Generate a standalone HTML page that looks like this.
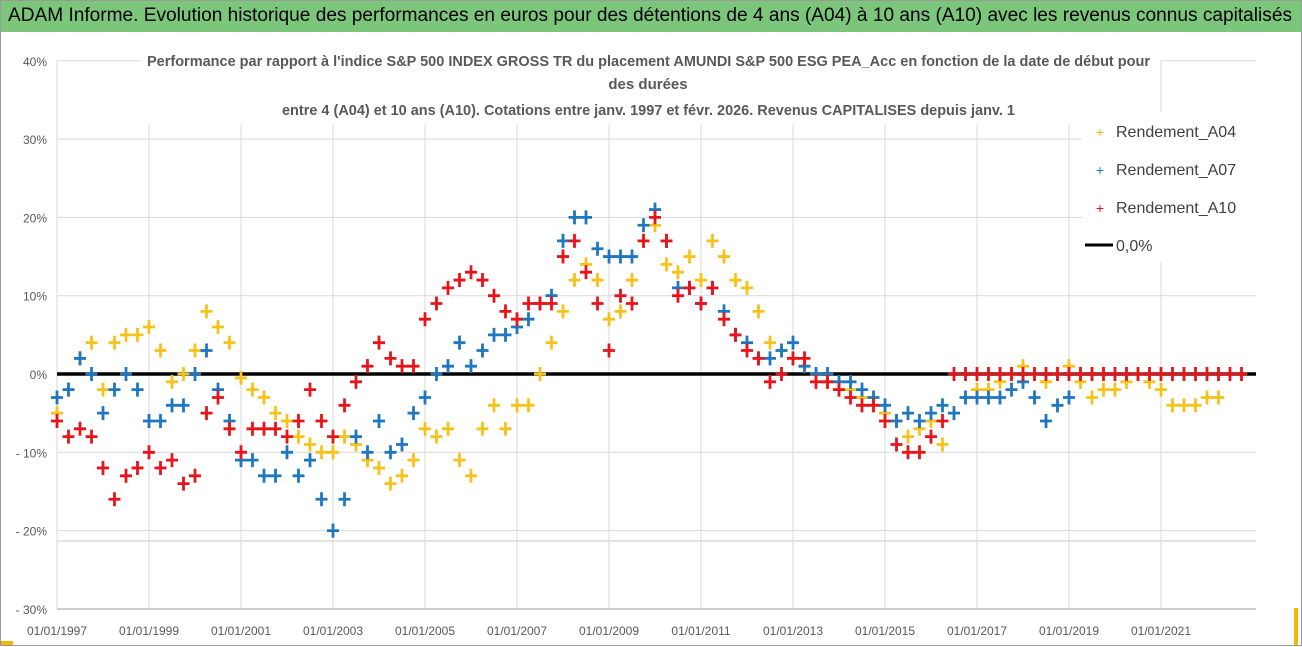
<!DOCTYPE html>
<html><head><meta charset="utf-8"><style>
html,body{margin:0;padding:0;background:#fff;}
#wrap{position:relative;width:1302px;height:647px;}
svg{display:block;font-family:"Liberation Sans",sans-serif;}
#hdr{position:absolute;left:8px;top:5px;font-family:"Liberation Sans",sans-serif;font-size:19px;line-height:22px;color:#000;white-space:nowrap;transform-origin:0 0;}
</style></head><body>
<div id="wrap">
<svg id="chart" width="1302" height="647" viewBox="0 0 1302 647" xmlns="http://www.w3.org/2000/svg">
<rect x="0.5" y="0.5" width="1301" height="645" fill="#fff" stroke="#9a9a9a"/>
<rect x="1" y="1" width="1300" height="31" fill="#7bc67b"/>
<rect x="1294" y="608" width="4" height="37" fill="#f5b800"/>
<rect x="1" y="641" width="12" height="4" fill="#f5b800"/>
<g id="grid"></g>
<g id="axes"></g>
<g id="marks"></g>
<rect x="140" y="44" width="1020" height="80" fill="#fff"/>
<text x="147" y="66" font-size="15" font-weight="bold" fill="#595959" textLength="1003" lengthAdjust="spacingAndGlyphs">Performance par rapport à l'indice S&amp;P 500 INDEX GROSS TR  du placement AMUNDI S&amp;P 500 ESG PEA_Acc en fonction de la date de début pour</text>
<text x="648" y="89" font-size="15" font-weight="bold" fill="#595959" text-anchor="middle">des durées</text>
<text x="282" y="115" font-size="15" font-weight="bold" fill="#595959" textLength="733" lengthAdjust="spacingAndGlyphs">entre 4 (A04) et 10 ans (A10). Cotations entre janv. 1997 et févr. 2026. Revenus CAPITALISES depuis janv. 1</text>
<g>
<rect x="1082" y="112" width="176" height="150" fill="#fff"/>
<g><text x="1100" y="137" font-size="14" fill="#f5b800" text-anchor="middle">+</text><text x="1116" y="137" font-size="16" fill="#404040">Rendement_A04</text></g>
<g><text x="1100" y="175" font-size="14" fill="#1f77c0" text-anchor="middle">+</text><text x="1116" y="175" font-size="16" fill="#404040">Rendement_A07</text></g>
<g><text x="1100" y="213" font-size="14" fill="#e8141c" text-anchor="middle">+</text><text x="1116" y="213" font-size="16" fill="#404040">Rendement_A10</text></g>
<g><line x1="1085" y1="245" x2="1113" y2="245" stroke="#000" stroke-width="3"/><text x="1116" y="251" font-size="16" fill="#404040">0,0%</text></g>
</g>
</svg>
<div id="hdr">ADAM Informe. Evolution historique des performances en euros pour des détentions de 4 ans (A04) à 10 ans (A10) avec les revenus connus capitalisés</div>
</div>
<script>
const yTicks = [40,30,20,10,0,-10,-20,-30];
const yTickLabels = ["40%","30%","20%","10%","0%","- 10%","- 20%","- 30%"];
const xTickYears = [1997,1999,2001,2003,2005,2007,2009,2011,2013,2015,2017,2019,2021];
const xTickLabels = ["01/01/1997","01/01/1999","01/01/2001","01/01/2003","01/01/2005","01/01/2007","01/01/2009","01/01/2011","01/01/2013","01/01/2015","01/01/2017","01/01/2019","01/01/2021"];
const startYear = 1997;
const stepYears = 0.25;
const seriesA04 = [-5,-2,2,4,-2,4,5,5,6,3,-1,0,3,8,6,4,-0.5,-2,-3,-5,-6,-8,-9,-10,-10,-8,-9,-11,-12,-14,-13,-11,-7,-8,-7,-11,-13,-7,-4,-7,-4,-4,0,4,8,12,14,12,7,8,12,17,19,14,13,15,12,17,15,12,11,8,4,3,2,1,0,-1,-2,-2,-3,-3,-5,-6,-8,-7,-6,-9,-5,-3,-2,-2,-1,0,1,0,-1,0,1,-1,-3,-2,-2,-1,0,-1,-2,-4,-4,-4,-3,-3];
const seriesA07 = [-3,-2,2,0,-5,-2,0,-2,-6,-6,-4,-4,0,3,-2,-6,-11,-11,-13,-13,-10,-13,-11,-16,-20,-16,-8,-10,-6,-10,-9,-5,-3,0,1,4,1,3,5,5,6,7,9,10,17,20,20,16,15,15,15,19,21,17,11,11,9,11,8,5,4,2,2,3,4,1,0,0,-1,-1,-2,-3,-4,-6,-5,-6,-5,-4,-5,-3,-3,-3,-3,-2,-1,-3,-6,-4,-3];
const seriesA10 = [-6,-8,-7,-8,-12,-16,-13,-12,-10,-12,-11,-14,-13,-5,-3,-7,-10,-7,-7,-7,-8,-6,-2,-6,-8,-4,-1,1,4,2,1,1,7,9,11,12,13,12,10,8,7,9,9,9,15,17,13,9,3,10,9,17,20,17,10,11,9,11,7,5,3,2,-1,0,2,2,-1,-1,-2,-3,-4,-4,-6,-9,-10,-10,-8,-6,0,0,0,0,0,0,0,0,0,0,0,0,0,0,0,0,0,0,0,0,0,0,0,0,0,0];
const zeroLineValue = 0;

const NS = "http://www.w3.org/2000/svg";
const plotLeft = 57, plotRight = 1256, pxPerYear = 46;
const yZero = 374, pxPerPct = 7.83;
function xScale(year){ return plotLeft + (year - startYear) * pxPerYear; }
function yScale(v){ return yZero - v * pxPerPct; }
function mk(tag, attrs, parent){ const e = document.createElementNS(NS, tag); for (const k in attrs) e.setAttribute(k, attrs[k]); parent.appendChild(e); return e; }

const hdr = document.getElementById('hdr');
const hw = hdr.getBoundingClientRect().width;
if (hw > 0) hdr.style.transform = 'scaleX(' + (1284 / hw) + ')';

const grid = document.getElementById('grid');
const axes = document.getElementById('axes');
const marks = document.getElementById('marks');

yTicks.forEach((t, i) => {
  const y = yScale(t);
  const gl = mk('line', {x1: plotLeft, x2: plotRight, y1: y, y2: y, stroke: '#d9d9d9', 'stroke-width': 1}, grid);
  
  
  const lb = mk('text', {x: 47, y: y + 5, 'font-size': 12, fill: '#595959', 'text-anchor': 'end'}, axes);
  lb.textContent = yTickLabels[i];
  
  
});
const extra = mk('line', {x1: plotLeft, x2: plotRight, y1: 541, y2: 541, stroke: '#c8c8c8', 'stroke-width': 1}, grid);


xTickYears.forEach((yr, i) => {
  const x = xScale(yr);
  const gl = mk('line', {x1: x, x2: x, y1: 61, y2: 609, stroke: '#d9d9d9', 'stroke-width': 1}, grid);
  
  
  const lb = mk('text', {x: x, y: 635, 'font-size': 12, fill: '#595959', 'text-anchor': 'middle'}, axes);
  lb.textContent = xTickLabels[i];
  
  
});
const xAxis = mk('line', {x1: plotLeft, x2: plotRight, y1: 609, y2: 609, stroke: '#bfbfbf', 'stroke-width': 1.5}, axes);


const yAxis = mk('line', {x1: plotLeft, x2: plotLeft, y1: 61, y2: 609, stroke: '#d9d9d9', 'stroke-width': 1}, axes);



const zl = mk('line', {x1: plotLeft, x2: plotRight, y1: yScale(zeroLineValue), y2: yScale(zeroLineValue), stroke: '#000', 'stroke-width': 3.5}, marks);



function drawSeries(values, color, name){
  const g = mk('g', {stroke: color, 'stroke-width': 2.8, fill: 'none'}, marks);
  
  
  values.forEach((v, i) => {
    const x = xScale(startYear + i * stepYears), y = yScale(v);
    const p = mk('path', {d: `M${x-6},${y}H${x+6}M${x},${y-7}V${y+7}`}, g);
    
    
  });
}
drawSeries(seriesA04, '#f7c21a', 'series-a04');
drawSeries(seriesA07, '#1f77c0', 'series-a07');
drawSeries(seriesA10, '#e8141c', 'series-a10');
</script>
</body></html>
